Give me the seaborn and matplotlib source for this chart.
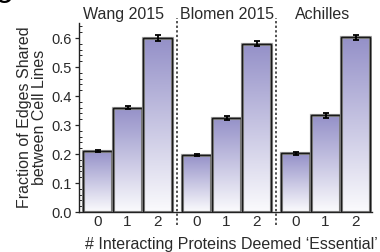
import numpy as np
import pandas as pd
import matplotlib
matplotlib.use("Agg")
import matplotlib.pyplot as plt
import matplotlib.patheffects as pe
from matplotlib.colors import LinearSegmentedColormap
from matplotlib.ticker import MultipleLocator
import seaborn as sns

datasets = ["Wang 2015", "Blomen 2015", "Achilles"]
n_essential = ["0", "1", "2"]
wang_vals = [0.211, 0.360, 0.600]
blomen_vals = [0.197, 0.325, 0.580]
achilles_vals = [0.202, 0.333, 0.602]
wang_err = [0.004, 0.005, 0.011]
blomen_err = [0.004, 0.007, 0.009]
achilles_err = [0.004, 0.008, 0.008]

group_gap = 3.3
rows = []
for g, (name, vals, errs) in enumerate(zip(datasets,
                                          [wang_vals, blomen_vals, achilles_vals],
                                          [wang_err, blomen_err, achilles_err])):
    for i, (v, e) in enumerate(zip(vals, errs)):
        rows.append({"dataset": name, "n": n_essential[i], "pos": g * group_gap + i,
                     "value": v, "err": e})
df = pd.DataFrame(rows)

sns.set_style("ticks")
plt.rcParams["font.family"] = ["Liberation Sans", "DejaVu Sans"]
txt_color = "#2a2a2a"

fig = plt.figure(figsize=(3.8, 2.52), dpi=100)
ax = fig.add_axes([79 / 380, 1 - 212 / 252, 293 / 380, 189 / 252])

sns.barplot(data=df, x="pos", y="value", native_scale=True, width=0.967,
            errorbar=None, color="#9590c8", ax=ax, zorder=2)

cmap = LinearSegmentedColormap.from_list("g", ["#fbfbfd", "#9490c8"])
grad = np.linspace(0, 1, 256).reshape(-1, 1)
for p in list(ax.patches):
    x0, y0 = p.get_x(), p.get_y()
    w, h = p.get_width(), p.get_height()
    im = ax.imshow(grad, cmap=cmap, origin="lower", aspect="auto",
                   extent=[x0, x0 + w, y0, y0 + h], zorder=2, interpolation="bicubic")
    im.set_clip_path(p)
    p.set_facecolor("none")
    p.set_edgecolor("#1a1a1a")
    p.set_linewidth(1.0)
    p.set_zorder(3)
    p.set_path_effects([pe.withStroke(linewidth=2.3, foreground="#a8a8a8"), pe.Normal()])

ax.errorbar(df["pos"], df["value"], yerr=df["err"], fmt="none", ecolor="black",
            elinewidth=1.3, capsize=2.5, capthick=1.3, zorder=4)

ax.set_xlim(-0.62, 9.15)
ax.set_ylim(0, 0.652)
ax.set_xticks(df["pos"])
ax.set_xticklabels(df["n"], fontsize=11, color=txt_color)
ax.tick_params(axis="x", length=0, pad=2)
ax.yaxis.set_minor_locator(MultipleLocator(0.02))
yt = np.round(np.arange(0, 0.61, 0.1), 1)
ax.set_yticks(yt)
ax.set_yticklabels([f"{t:.1f}" for t in yt], fontsize=10.5, color=txt_color)
ax.tick_params(axis="y", which="major", length=3, width=0.9, direction="out", pad=2)
ax.tick_params(axis="y", which="minor", length=2, width=0.7, direction="in")

for s in ["top", "right"]:
    ax.spines[s].set_visible(False)
for s in ["left", "bottom"]:
    ax.spines[s].set_linewidth(1.0)
    ax.spines[s].set_color("#222222")

for sep in [2.65, 5.95]:
    ax.plot([sep, sep], [-0.045, 0.668], ls=(0, (1.5, 1.5)), color="#222222",
            lw=1.1, clip_on=False, zorder=1)

title_x = [0.85, group_gap + 1.0, 2 * group_gap + 0.9]
for tx, name in zip(title_x, datasets):
    ax.text(tx, 0.68, name, ha="center", va="center", fontsize=11.5, color=txt_color,
            clip_on=False)

ax.set_xlabel("# Interacting Proteins Deemed \u2018Essential\u2019", fontsize=11.5,
              color=txt_color)
ax.xaxis.set_label_coords((231 - 79) / 293, -(245 - 212) / 189)
ax.xaxis.label.set_va("center")
ax.set_ylabel("Fraction of Edges Shared\nbetween Cell Lines", fontsize=11.5,
              color=txt_color, labelpad=3, linespacing=1.05)

fig.text(-0.012, 1 - 3 / 252, "C", fontsize=16, fontweight="bold", va="baseline",
         ha="left", color="black")

fig.savefig("out.png", dpi=100)
